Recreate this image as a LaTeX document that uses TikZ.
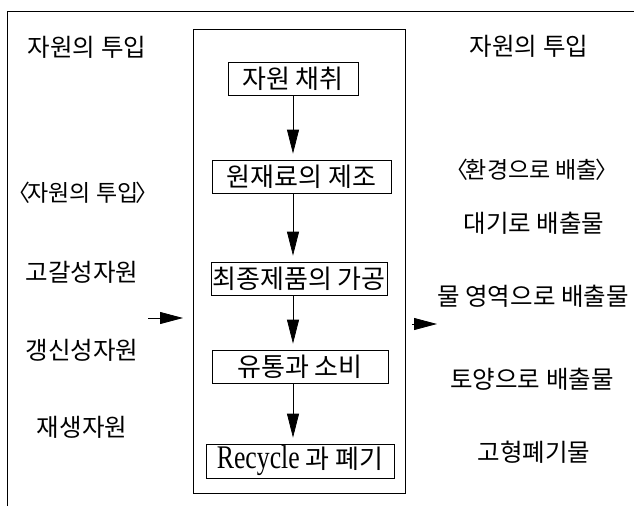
\documentclass[tikz,border=0pt]{standalone}
\usepackage{fontspec}
\newfontfamily\kr{Noto Sans CJK KR}
\newfontfamily\latinserif{Liberation Serif}[FakeStretch=0.78]
\newcommand{\lbr}{〈\kern-0.12em}
\newcommand{\rbr}{\kern-0.12em〉}
\usetikzlibrary{arrows.meta}
\tikzset{
  frame/.style={line width=0.8pt},
  stepbox/.style={draw, line width=0.7pt, inner sep=0pt, font=\kr\fontsize{26}{28}\selectfont},
  side/.style={inner sep=0pt, font=\kr\fontsize{24.5}{27}\selectfont},
  bracketed/.style={side, font=\kr\fontsize{23}{26}\selectfont},
  flow/.style={line width=0.7pt, -{Triangle[length=24pt,width=12pt]}},
  feed/.style={line width=0.8pt, -{Triangle[length=23pt,width=12pt]}}
}
\begin{document}
\begin{tikzpicture}[x=1pt,y=-1pt]
\useasboundingbox (0,0) rectangle (634,506);
% outer frame (top and left only visible)
\draw[frame] (7,506) -- (7,11) -- (634,11);
% inner process box
\draw[frame] (193,29) rectangle (405,493);
% step boxes
\node[stepbox, minimum width=130pt, minimum height=33pt] (b1) at (293,79) {자원 채취};
\node[stepbox, minimum width=179pt, minimum height=33pt] (b2) at (301.5,176.5) {원재료의 제조};
\node[stepbox, minimum width=176pt, minimum height=33pt] (b3) at (299,278.5) {최종제품의 가공};
\node[stepbox, minimum width=176pt, minimum height=33pt] (b4) at (300,366.5) {유통과 소비};
\node[stepbox, minimum width=188pt, minimum height=34pt] (b5) at (300,461) {{\latinserif\fontsize{33}{35}\selectfont Recycle} 과 폐기};
% vertical arrows
\draw[flow, shorten >=6pt] (b1.south) -- (b1.south |- b2.north);
\draw[flow, shorten >=6pt] (b1.south |- b2.south) -- (b1.south |- b3.north);
\draw[flow, shorten >=6pt] (b1.south |- b3.south) -- (b1.south |- b4.north);
\draw[flow, shorten >=6pt] (b1.south |- b4.south) -- (b1.south |- b5.north);
% left labels
\node[side] (l0) at (87,47) {자원의 투입};
\node[bracketed] (l1) at (83,193) {\lbr 자원의 투입\rbr};
\node[side] (l2) at (82,272) {고갈성자원};
\node[side] (l3) at (82,350) {갱신성자원};
\node[side] (l4) at (82,427) {재생자원};
% right labels
\node[side] (r0) at (529,46) {자원의 투입};
\node[bracketed] (r1) at (532,170) {\lbr 환경으로 배출\rbr};
\node[side] (r2) at (534,223) {대기로 배출물};
\node[side] (r3) at (533,296) {물 영역으로 배출물};
\node[side] (r4) at (532,379) {토양으로 배출물};
\node[side] (r5) at (534,452) {고형폐기물};
% side arrows
\coordinate (inA) at (148,318);
\coordinate (inB) at (183,318);
\coordinate (outA) at (412,324);
\coordinate (outB) at (437,324);
\draw[feed] (inA) -- (inB);
\draw[feed] (outA) -- (outB);
\end{tikzpicture}
\end{document}
